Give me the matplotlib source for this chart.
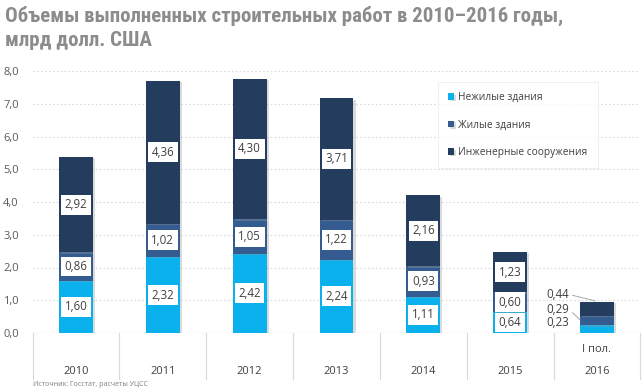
import matplotlib
matplotlib.use("Agg")
import matplotlib.pyplot as plt
import matplotlib.transforms as mtransforms
from matplotlib import patheffects as pe
from matplotlib import font_manager as fm
import numpy as np

categories = ["2010", "2011", "2012", "2013", "2014", "2015", "2016"]
cat_top = ["", "", "", "", "", "", "I пол."]
nonres = [1.60, 2.32, 2.42, 2.24, 1.11, 0.64, 0.23]
resid = [0.86, 1.02, 1.05, 1.22, 0.93, 0.60, 0.29]
engin = [2.92, 4.36, 4.30, 3.71, 2.16, 1.23, 0.44]
series_names = ["Нежилые здания", "Жилые здания", "Инженерные сооружения"]
colors = ["#0AB1EC", "#355C91", "#243D5F"]
yticks = [0, 1, 2, 3, 4, 5, 6, 7, 8]

def fmt(v, d=2):
    return f"{v:.{d}f}".replace(".", ",")

FONT = ["Open Sans", "DejaVu Sans"]
plt.rcParams["font.family"] = FONT

W, H = 642, 392
fig = plt.figure(figsize=(W / 100, H / 100), dpi=100)
fig.patch.set_facecolor("white")
x0, x1 = 32.6, 640.4
y0, y1 = 333, 71
ax = fig.add_axes([x0 / W, 1 - y0 / H, (x1 - x0) / W, (y0 - y1) / H])
ax.set_xlim(-0.5, 6.5)
ax.set_ylim(0, 8)
for s in ax.spines.values():
    s.set_visible(False)

# grid
for t in yticks[1:]:
    ax.axhline(t, color="#D9D9D9", lw=0.8, ls=(0, (1.5, 2)), zorder=0)
ax.axhline(0, color="#D9D9D9", lw=0.9, zorder=1)
ax.set_yticks(yticks)
ax.set_yticklabels([fmt(t, 1) for t in yticks], fontsize=8, color="#595959")
ax.tick_params(axis="y", length=0, pad=10)
ax.set_xticks([])

x = np.arange(len(categories))
bw = 0.39
shadow = [pe.SimplePatchShadow(offset=(1.5, -1), shadow_rgbFace="#999999", alpha=0.35), pe.Normal()]
bottom = np.zeros(len(categories))
for vals, col, name in zip([nonres, resid, engin], colors, series_names):
    ax.bar(x, vals, bw, bottom=bottom, color=col, label=name, zorder=3, path_effects=shadow)
    bottom = bottom + np.array(vals)

# value labels
box = dict(boxstyle="square,pad=0.3", fc="white", ec="none")
bottom = np.zeros(len(categories))
for vals in [nonres, resid, engin]:
    for i, v in enumerate(vals):
        if i == len(categories) - 1:
            continue
        ax.text(x[i], bottom[i] + v / 2, fmt(v), ha="center", va="center", fontsize=8.3,
                color="#404040", bbox=box, zorder=5)
    bottom = bottom + np.array(vals)

# 2016 labels with leader lines
i = len(categories) - 1
lx = x[i] - 0.45
ax.text(lx, 1.19, fmt(engin[i]), ha="center", va="center", fontsize=8.3, color="#404040", zorder=5)
ax.text(lx, 0.73, fmt(resid[i]), ha="center", va="center", fontsize=8.3, color="#404040", zorder=5)
ax.text(lx, 0.31, fmt(nonres[i]), ha="center", va="center", fontsize=8.3, color="#404040", zorder=5)
tot = nonres[i] + resid[i] + engin[i]
ax.plot([lx + 0.17, x[i] - 0.02], [1.15, tot + 0.02], color="#A6A6A6", lw=0.7, zorder=4)
ax.plot([lx + 0.17, x[i] - bw / 2], [0.62, 0.40], color="#A6A6A6", lw=0.7, zorder=4)

# category axis boxes
tr = mtransforms.blended_transform_factory(ax.transData, fig.transFigure)
for b in np.arange(-0.5, 6.6, 1.0):
    ax.plot([b, b], [1 - 333 / H, 1 - 379 / H], transform=tr, color="#D9D9D9", lw=0.8, clip_on=False)
for i, c in enumerate(categories):
    ax.text(x[i], 1 - 371 / H, c, transform=tr, ha="center", va="center", fontsize=8, color="#404040")
    if cat_top[i]:
        ax.text(x[i], 1 - 349 / H, cat_top[i], transform=tr, ha="center", va="center", fontsize=8, color="#404040")

# legend
leg = ax.legend(loc="upper left", bbox_to_anchor=((438 - x0) / (x1 - x0), (y0 - 82) / (y0 - y1)),
                frameon=True, fontsize=7.3, handlelength=0.6, handleheight=0.6, handletextpad=0.4,
                labelspacing=1.62, borderpad=1.0, borderaxespad=0, fancybox=False, labelcolor="#404040")
leg.get_frame().set_edgecolor("#EDEDED")
leg.get_frame().set_linewidth(0.8)
leg.set_zorder(6)

# title
title_fp = fm.FontProperties(family=["Roboto Condensed", "DejaVu Sans"], stretch="condensed",
                             weight="bold", size=15)
fig.text(5 / W, 1 - 16 / H, "Объемы выполненных строительных работ в 2010–2016 годы,",
         fontproperties=title_fp, color="#8C8C8C", va="center", ha="left")
fig.text(5 / W, 1 - 40 / H, "млрд долл. США",
         fontproperties=title_fp, color="#8C8C8C", va="center", ha="left")
fig.text(33 / W, 1 - 384 / H, "Источник: Госстат, расчеты УЦСС", fontsize=5, color="#7F7F7F",
         va="center", ha="left")

fig.savefig("out.png", dpi=100, facecolor="white")
